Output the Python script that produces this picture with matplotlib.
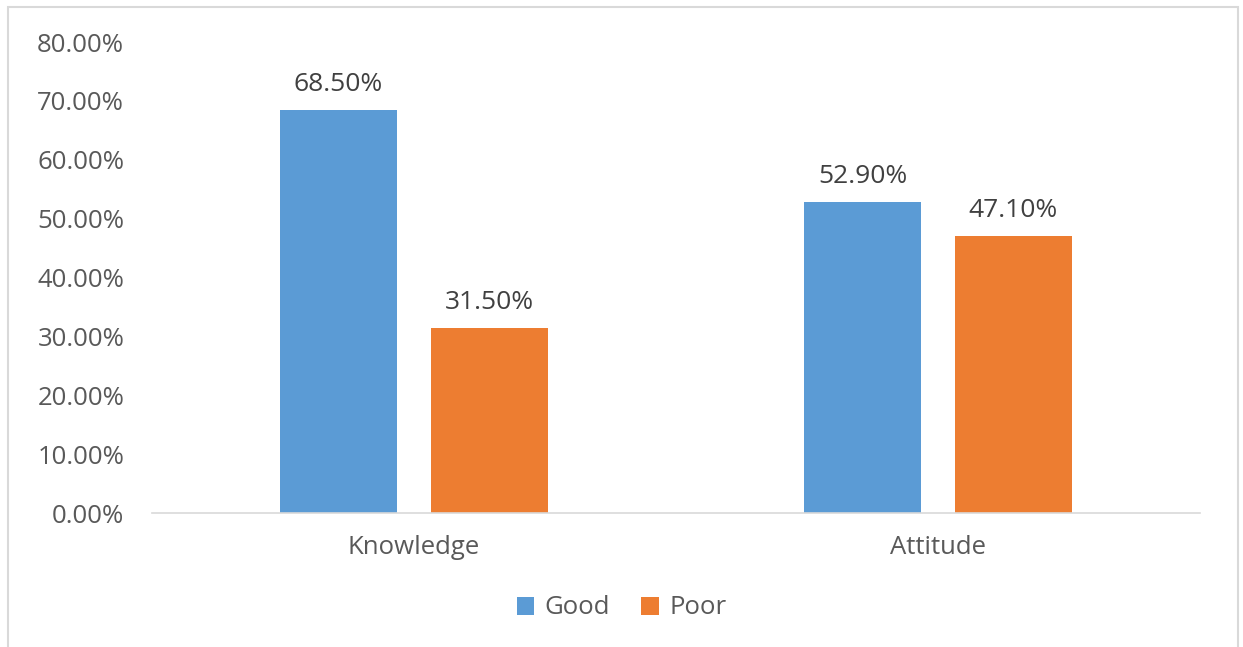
import matplotlib
matplotlib.use("Agg")
import matplotlib.pyplot as plt
import matplotlib.patches as mpatches
import numpy as np
from matplotlib.ticker import FuncFormatter

# data
categories = ["Knowledge", "Attitude"]
good = [0.685, 0.529]
poor = [0.315, 0.471]
series_names = ["Good", "Poor"]
colours = ["#5B9BD5", "#ED7D31"]
text_grey = "#595959"

plt.rcParams["font.family"] = ["Open Sans", "DejaVu Sans"]

fig = plt.figure(figsize=(12.43, 6.47), dpi=100)
ax = fig.add_axes([0.1223, 0.2071, 0.8431, 0.7279])

# light chart border
fig.patches.append(mpatches.Rectangle(
    (8 / 1243, -0.01), 1230 / 1243, 1 - 7 / 647 + 0.01,
    transform=fig.transFigure, fill=False, edgecolor="#D9D9D9", lw=1.5,
))

x = np.arange(len(categories))
width = 0.223
offset = 0.144
for vals, name, col, sign in zip([good, poor], series_names, colours, [-1, 1]):
    bars = ax.bar(x + sign * offset, vals, width, color=col, label=name)
    for b, v in zip(bars, vals):
        ax.annotate(f"{v * 100:.2f}%", (b.get_x() + b.get_width() / 2, v),
                    xytext=(0, 9), textcoords="offset points",
                    ha="center", va="bottom", fontsize=19, color="#404040")

ax.set_xlim(-0.5, 1.5)
ax.set_ylim(0, 0.8)
ax.set_yticks(np.arange(0, 0.81, 0.1))
ax.yaxis.set_major_formatter(FuncFormatter(lambda v, _: f"{v * 100:.2f}%"))
ax.set_xticks(x)
ax.set_xticklabels(categories)
ax.tick_params(axis="y", length=0, pad=20, labelsize=18.5, labelcolor=text_grey)
ax.tick_params(axis="x", length=0, pad=16, labelsize=18.5, labelcolor=text_grey)

for side in ["top", "right", "left"]:
    ax.spines[side].set_visible(False)
ax.spines["bottom"].set_color("#D9D9D9")
ax.spines["bottom"].set_linewidth(1.2)

leg = fig.legend(loc="center", bbox_to_anchor=(0.5, 1 - 608 / 647), ncol=2,
                 frameon=False, fontsize=18.5, handlelength=0.7, handleheight=0.7,
                 columnspacing=1.2, handletextpad=0.4)
for t in leg.get_texts():
    t.set_color(text_grey)

fig.savefig("out.png", dpi=100)
plt.close(fig)
